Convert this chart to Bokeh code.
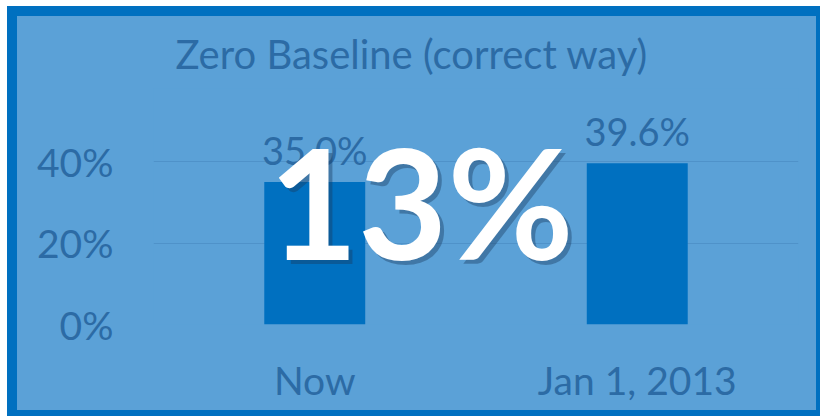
from bokeh.plotting import figure
from bokeh.models import Range1d, FixedTicker, NumeralTickFormatter, Label, ColumnDataSource
from bokeh.core.properties import value
from bokeh.embed import file_html
from bokeh.resources import INLINE

categories = ["Now", "Jan 1, 2013"]
values = [0.350, 0.396]
labels = ["35.0%", "39.6%"]
y_ticks = [0, 0.2, 0.4]
title_text = "Zero Baseline (correct way)"
change_text = f"{round((values[1] / values[0] - 1) * 100)}%"

BG = "#5BA1D7"
DARK = "#0070C0"
TXT = "#2C6BA5"
GRID = "#4F92C9"
FONT = "Lato"

p = figure(x_range=categories, y_range=Range1d(0, 0.58), width=799, height=394,
           output_backend="svg", toolbar_location=None,
           min_border_left=136, min_border_right=18, min_border_top=72, min_border_bottom=86)
p.margin = (16, 0, 0, 17)
# dark frame drawn outside the plot with an outline (does not change layout size)
p.styles = {"background-color": BG, "outline": f"10px solid {DARK}"}
p.background_fill_color = BG
p.border_fill_color = BG
p.outline_line_color = None

p.title.text = title_text
p.title.align = "left"
p.title.offset = 22
p.title.standoff = 22
p.title.text_font = FONT
p.title.text_font_size = "40px"
p.title.text_font_style = "normal"
p.title.text_color = TXT

src = ColumnDataSource(dict(cat=categories, val=values, lab=labels))
p.vbar(x="cat", top="val", width=0.313, source=src, fill_color=DARK, line_color=None)
p.text(x="cat", y="val", text="lab", source=src, text_align="center", text_baseline="alphabetic",
       y_offset=-32, text_font=value(FONT), text_font_size="38px", text_color=TXT)

p.xgrid.grid_line_color = None
p.ygrid.grid_line_color = GRID
p.ygrid.grid_line_width = 1.2
p.yaxis.ticker = FixedTicker(ticks=y_ticks)
p.yaxis.formatter = NumeralTickFormatter(format="0%")

for ax in (p.xaxis, p.yaxis):
    ax.axis_line_color = None
    ax.major_tick_line_color = None
    ax.minor_tick_line_color = None
    ax.major_label_text_font = FONT
    ax.major_label_text_font_size = "39px"
    ax.major_label_text_color = TXT
p.yaxis.major_label_standoff = 34
p.xaxis.major_label_standoff = 26

# big overlay number with soft shadow
p.add_layout(Label(x=0.83, y=0.162, text=change_text, text_align="center", text_baseline="alphabetic",
                   x_offset=4, y_offset=58 - 4, text_font=FONT, text_font_size="154px",
                   text_font_style="bold", text_color="#1a3a5c", text_alpha=0.4))
p.add_layout(Label(x=0.83, y=0.162, text=change_text, text_align="center", text_baseline="alphabetic",
                   y_offset=58, text_font=FONT, text_font_size="154px", text_font_style="bold",
                   text_color="white"))

open("out.html", "w").write(file_html(p, INLINE))
